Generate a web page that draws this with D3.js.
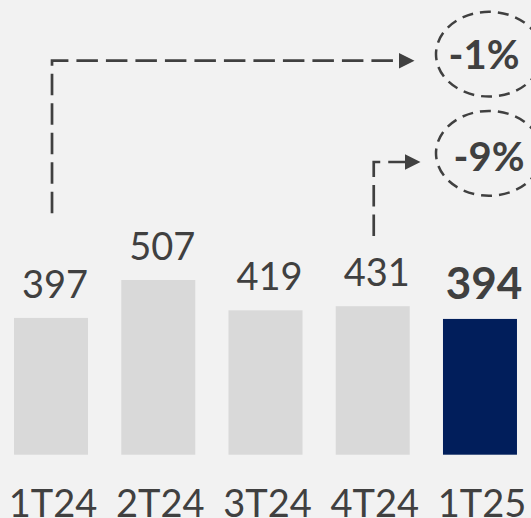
<!DOCTYPE html>
<html>
<head>
<meta charset="utf-8">
<script src="https://cdn.jsdelivr.net/npm/d3@7/dist/d3.min.js"></script>
<style>
  html, body { margin: 0; padding: 0; background: #f2f2f2; }
  svg { display: block; }
  text { font-family: "Lato", "Open Sans", sans-serif; fill: #404040; }
</style>
</head>
<body>
<svg id="chart" width="531" height="518"></svg>
<script>
// ---- data ----
const categories = ["1T24", "2T24", "3T24", "4T24", "1T25"];
const values = [397, 507, 419, 431, 394];
const highlight = [false, false, false, false, true];

// change annotations: from category, label
const annFrom = ["1T24", "4T24"];
const annLabels = ["-1%", "-9%"];

// ---- layout ----
const W = 531, H = 518;
const svg = d3.select("#chart");
svg.append("rect").attr("width", W).attr("height", H).attr("fill", "#f2f2f2");

const x = d3.scaleBand()
  .domain(categories)
  .range([-2.6, 533.6])
  .paddingInner(0.31)
  .paddingOuter(0.155);

const y = d3.scaleLinear()
  .domain([0, 507])
  .range([454.7, 280]);

const data = categories.map((c, i) => ({ c, v: values[i], hl: highlight[i] }));

// bars
svg.selectAll("rect.bar").data(data).enter().append("rect")
  .attr("class", "bar")
  .attr("x", d => x(d.c))
  .attr("width", x.bandwidth())
  .attr("y", d => y(d.v))
  .attr("height", d => y(0) - y(d.v))
  .attr("fill", d => d.hl ? "#011e5b" : "#d9d9d9");

// value labels
svg.selectAll("text.val").data(data).enter().append("text")
  .attr("class", "val")
  .attr("x", d => x(d.c) + x.bandwidth() / 2 + 4)
  .attr("y", d => y(d.v) - 20)
  .attr("text-anchor", "middle")
  .style("font-size", d => d.hl ? "44px" : "38px")
  .style("font-weight", d => d.hl ? "700" : "400")
  .text(d => d.v);

// x axis labels
const xAxis = d3.axisBottom(x).tickSize(0).tickPadding(0);
const gx = svg.append("g").call(xAxis);
gx.select(".domain").remove();
gx.selectAll(".tick text")
  .attr("y", 516.5)
  .attr("dy", 0)
  .attr("dx", 2)
  .style("font-size", "38px")
  .style("font-family", "Lato, 'Open Sans', sans-serif")
  .attr("fill", "#404040");

// ---- annotations ----
const annGeom = [
  { yTop: 60.7, yBottom: 213.3, xBase: 399, cy: 54.2, tx: 484, ty: 68.5 },
  { yTop: 162, yBottom: 236, xBase: 405, cy: 153.3, tx: 489, ty: 171 }
];
const ellCx = 489, ellRx = 53, ellRy = 42.4, arrowLen = 15.5, arrowH = 15.5;
const ink = "#404040";

annFrom.forEach((cat, i) => {
  const g = annGeom[i];
  const x0 = x(cat) + x.bandwidth() / 2 + 1;
  const p = d3.path();
  p.moveTo(x0, g.yBottom);
  p.lineTo(x0, g.yTop);
  p.lineTo(g.xBase, g.yTop);
  svg.append("path")
    .attr("d", p.toString())
    .attr("fill", "none")
    .attr("stroke", ink)
    .attr("stroke-width", 2.7)
    .attr("stroke-dasharray", "21.5,8");
  const t = d3.path();
  t.moveTo(g.xBase, g.yTop - arrowH / 2);
  t.lineTo(g.xBase + arrowLen, g.yTop);
  t.lineTo(g.xBase, g.yTop + arrowH / 2);
  t.closePath();
  svg.append("path").attr("d", t.toString()).attr("fill", ink);

  svg.append("ellipse")
    .attr("cx", ellCx).attr("cy", g.cy)
    .attr("rx", ellRx).attr("ry", ellRy)
    .attr("fill", "none")
    .attr("stroke", ink)
    .attr("stroke-width", 2.5)
    .attr("stroke-dasharray", "11,7");

  svg.append("text")
    .attr("x", g.tx).attr("y", g.ty)
    .attr("text-anchor", "middle")
    .style("font-size", "40px")
    .style("font-weight", "700")
    .text(annLabels[i]);
});
</script>
</body>
</html>
